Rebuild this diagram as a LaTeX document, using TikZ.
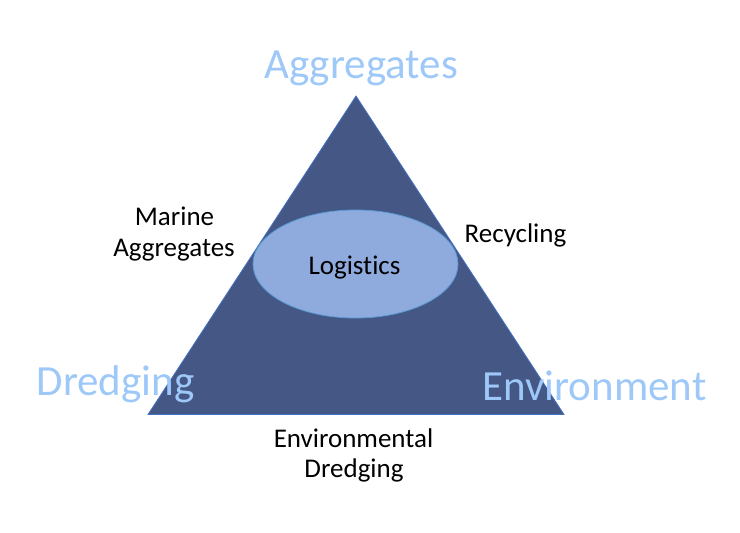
\documentclass[tikz,border=0pt]{standalone}
\usepackage{fontspec}
\setmainfont{Carlito}[Ligatures={NoCommon,NoRequired,NoContextual}]
\usetikzlibrary{shapes.geometric}
\definecolor{trifill}{RGB}{69,87,132}
\definecolor{triedge}{RGB}{68,114,196}
\definecolor{ellfill}{RGB}{143,170,220}
\definecolor{elledge}{RGB}{91,155,213}
\definecolor{biglabel}{RGB}{157,200,248}
\tikzset{
  bigtext/.style={anchor=base, text=biglabel, font=\fontsize{43}{52}\selectfont, inner sep=0pt},
  smalltext/.style={anchor=base, text=black, font=\fontsize{27}{32}\selectfont, inner sep=0pt},
}
\begin{document}
\begin{tikzpicture}[x=1pt,y=-1pt]
\useasboundingbox (0,0) rectangle (740,533);
\coordinate (apex) at (356,96);
\coordinate (bl) at (148,414.5);
\coordinate (br) at (564,414.5);
\fill[trifill, draw=triedge, line width=0.8pt] (apex) -- (br) -- (bl) -- cycle;
\node[ellipse, fill=ellfill, draw=elledge, line width=0.8pt, minimum width=205pt, minimum height=108pt, inner sep=0pt] (ell) at (355.5,264) {};
\node[smalltext] (logistics) at (354.5,274) {Logistics};
\node[bigtext] (aggregates) at (361,78) {Aggregates};
\node[bigtext] (dredging) at (115.5,395) {Dredging};
\node[bigtext] (environment) at (594.5,400) {Environment};
\node[smalltext] (marine1) at (174.5,225) {Marine};
\node[smalltext] (marine2) at (174,256) {Aggregates};
\node[smalltext] (recycling) at (515.5,242) {Recycling};
\node[smalltext] (envdr1) at (353.5,447) {Environmental};
\node[smalltext] (envdr2) at (354,477) {Dredging};
\end{tikzpicture}
\end{document}
